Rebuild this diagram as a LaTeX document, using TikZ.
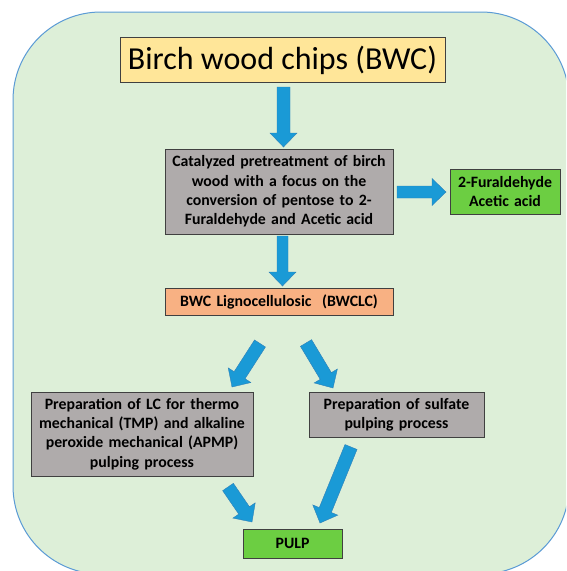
\documentclass[tikz,border=0pt]{standalone}
\usepackage{fontspec}
\setmainfont{Carlito}
\usetikzlibrary{calc}
\definecolor{bgfill}{HTML}{DDEFD8}
\definecolor{bgline}{HTML}{5B9BD5}
\definecolor{titlefill}{HTML}{FFE699}
\definecolor{grayfill}{HTML}{AFABAB}
\definecolor{greenfill}{HTML}{6CCE42}
\definecolor{orangefill}{HTML}{F8B183}
\definecolor{boxline}{HTML}{404040}
\definecolor{arrowfill}{HTML}{1A9AD6}
\definecolor{arrowline}{HTML}{2E80B8}
\tikzset{
  box/.style={draw=boxline, line width=0.9pt, inner sep=0pt, align=center,
    font=\bfseries\fontsize{15.8}{19.4}\selectfont},
  fatarrow/.style={fill=arrowfill, draw=arrowline, line width=0.4pt,
    to path={
      ($(\tikztostart)!#1!90:(\tikztotarget)$)
      -- ($(\tikztotarget)!14pt!(\tikztostart)!#1!90:(\tikztotarget)$)
      -- ($(\tikztotarget)!14pt!(\tikztostart)!13.5pt!90:(\tikztotarget)$)
      -- (\tikztotarget)
      -- ($(\tikztotarget)!14pt!(\tikztostart)!13.5pt!-90:(\tikztotarget)$)
      -- ($(\tikztotarget)!14pt!(\tikztostart)!#1!-90:(\tikztotarget)$)
      -- ($(\tikztostart)!#1!-90:(\tikztotarget)$)
      -- cycle}},
  fatarrow/.default=6.5pt
}
\begin{document}
\begin{tikzpicture}[x=1pt,y=-1pt]
\useasboundingbox (0,0) rectangle (566,571);
\begin{scope}
\clip (0,0) rectangle (566,571);
\draw[draw=bgline, fill=bgfill, line width=1pt, rounded corners=88pt] (13,12) rectangle (569,574);
\end{scope}

\node[box, fill=titlefill, minimum width=325pt, minimum height=45pt,
  font=\fontsize{32}{36}\selectfont] (bwc) at (282.5,60) {Birch wood chips (BWC)};
\node[box, fill=grayfill, minimum width=228pt, minimum height=85pt, text width=226pt] (pre) at (279,191.5)
  {Catalyzed pretreatment of birch\\ wood with a focus on the\\ conversion of pentose to 2-\\ Furaldehyde and Acetic acid};
\node[box, fill=greenfill, minimum width=110pt, minimum height=45pt, text width=108pt] (fur) at (505,191.5)
  {2-Furaldehyde\\ Acetic acid};
\node[box, fill=orangefill, minimum width=228pt, minimum height=27pt, text width=226pt] (lc) at (279,301.5)
  {BWC Lignocellulosic\ \ (BWCLC)};
\node[box, fill=grayfill, minimum width=222pt, minimum height=84pt, text width=220pt] (tmp) at (142,434)
  {Preparation of LC for thermo\\ mechanical (TMP) and alkaline\\ peroxide mechanical (APMP)\\ pulping process};
\node[box, fill=grayfill, minimum width=175pt, minimum height=45pt, text width=173pt] (sul) at (396.5,414.5)
  {Preparation of sulfate\\ pulping process};
\node[box, fill=greenfill, minimum width=99pt, minimum height=29pt, text width=97pt] (pulp) at (292.5,543.5)
  {PULP};

\coordinate (a1s) at (283.5,87);   \coordinate (a1e) at (283.5,147);
\coordinate (a2s) at (397,192);    \coordinate (a2e) at (446,192);
\coordinate (a3s) at (282.5,236);  \coordinate (a3e) at (282.5,286);
\coordinate (a4s) at (260,343.5);  \coordinate (a4e) at (232,387);
\coordinate (a5s) at (306,343);    \coordinate (a5e) at (333,388);
\coordinate (a6s) at (228,487);    \coordinate (a6e) at (252,522);
\coordinate (a7s) at (351,447);    \coordinate (a7e) at (320,523);

\path[fatarrow] (a1s) to (a1e);
\path[fatarrow=6pt] (a2s) to (a2e);
\path[fatarrow=5.5pt] (a3s) to (a3e);
\path[fatarrow] (a4s) to (a4e);
\path[fatarrow] (a5s) to (a5e);
\path[fatarrow] (a6s) to (a6e);
\path[fatarrow] (a7s) to (a7e);
\end{tikzpicture}
\end{document}
